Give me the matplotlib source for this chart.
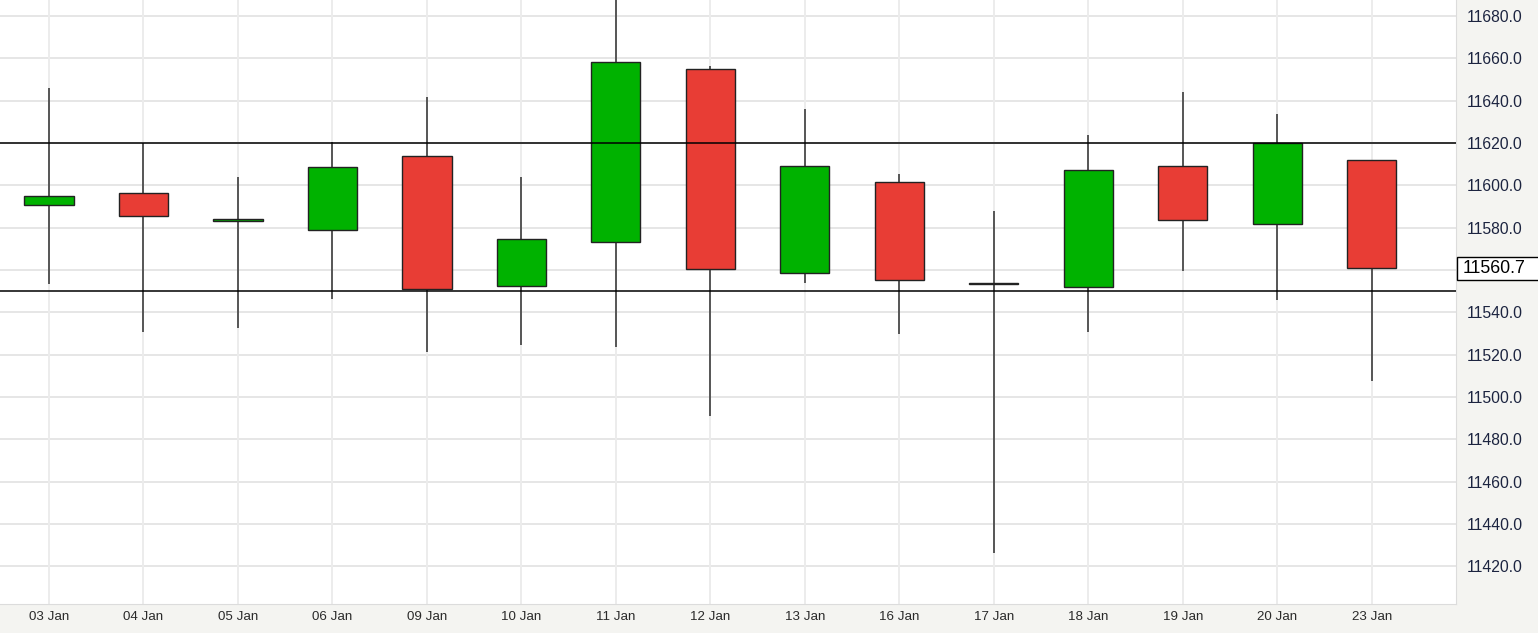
import matplotlib
matplotlib.use("Agg")
import matplotlib.pyplot as plt
import matplotlib.transforms as mtransforms
from matplotlib.patches import Rectangle
import numpy as np

# mum verileri (gozle okunan degerler)
tarihler = ["03 Jan", "04 Jan", "05 Jan", "06 Jan", "09 Jan", "10 Jan", "11 Jan", "12 Jan",
            "13 Jan", "16 Jan", "17 Jan", "18 Jan", "19 Jan", "20 Jan", "23 Jan"]
acilis = [11590.6, 11596.5, 11583.2, 11579.0, 11613.7, 11552.6, 11573.4, 11655.0,
          11558.7, 11601.4, 11553.4, 11551.8, 11609.1, 11581.7, 11612.0]
kapanis = [11595.0, 11585.7, 11583.9, 11608.5, 11551.0, 11574.5, 11658.4, 11560.6,
           11609.3, 11555.4, 11553.4, 11607.4, 11583.5, 11620.0, 11560.7]
yuksek = [11645.8, 11620.0, 11603.8, 11620.3, 11641.9, 11604.1, 11692.0, 11656.4,
          11636.1, 11605.4, 11587.7, 11623.9, 11644.2, 11633.7, 11612.0]
dusuk = [11553.4, 11530.9, 11532.5, 11546.3, 11521.1, 11524.6, 11523.8, 11491.2,
         11554.0, 11529.6, 11426.5, 11530.6, 11559.5, 11545.8, 11507.7]
seviyeler = [11620.0, 11550.0]  # yatay destek / direnc cizgileri
son_fiyat = 11560.7
y_tikler = np.arange(11420, 11681, 20)

yesil = "#00b200"
kirmizi = "#e83d35"
arka = "#f4f4f1"

plt.rcParams["font.family"] = ["Liberation Sans", "DejaVu Sans"]

fig = plt.figure(figsize=(15.38, 6.33), dpi=100, facecolor=arka)
ax = fig.add_axes([0, 0.0458, 1456 / 1538, 1 - 0.0458])
ax.set_facecolor("white")

x = np.arange(len(tarihler))
acilis = np.array(acilis)
kapanis = np.array(kapanis)

# izgara
for t in y_tikler:
    ax.axhline(t, color="#e6e6e6", lw=1.4, zorder=0)
for xi in x:
    ax.axvline(xi, color="#ececec", lw=1.4, zorder=0)

# fitiller
ax.vlines(x, dusuk, yuksek, color="#4a4a4a", lw=1.3, zorder=2)

# govdeler
renkler = [yesil if k >= a else kirmizi for a, k in zip(acilis, kapanis)]
alt = np.minimum(acilis, kapanis)
boy = np.maximum(np.abs(kapanis - acilis), 0.5)
ax.bar(x, boy, bottom=alt, width=0.52, color=renkler, edgecolor="#222222",
       linewidth=1.0, zorder=3)

# destek direnc cizgileri
for s in seviyeler:
    ax.axhline(s, color="black", lw=1.1, zorder=4)

ax.set_xlim(-0.518, 14.89)
ax.set_ylim(11402.2, 11687.5)

ax.set_xticks(x)
ax.set_xticklabels(tarihler, fontsize=9.6, color="#2a2a2a")
ax.set_yticks(y_tikler)
# 11560 etiketi son fiyat kutusunun altinda kaliyor, gosterme
ax.set_yticklabels(["" if t == 11560 else f"{t:.1f}" for t in y_tikler],
                   fontsize=11.3, color="#1c2440")
ax.yaxis.tick_right()
ax.tick_params(axis="y", length=0, pad=8)
ax.tick_params(axis="x", length=0, pad=5)

for sp in ax.spines.values():
    sp.set_visible(False)
ax.spines["right"].set_visible(True)
ax.spines["right"].set_color("#dcdcdc")
ax.spines["bottom"].set_visible(True)
ax.spines["bottom"].set_color("#dcdcdc")

# son fiyat etiketi: eksenin sagindan figurun disina tasan kutu
tr = mtransforms.blended_transform_factory(ax.transAxes, ax.transData)
kutu_y = 11.4 / 2.117  # yarim yukseklik (veri biriminde)
ax.add_patch(Rectangle((1.0005, son_fiyat - kutu_y), 0.08, 2 * kutu_y, transform=tr,
                       facecolor="white", edgecolor="black", lw=1.0, clip_on=False, zorder=5))
ax.text(1.0045, son_fiyat, f"{son_fiyat:.1f}", transform=tr, ha="left", va="center",
        fontsize=12.8, color="black", zorder=6, clip_on=False)

fig.savefig("out.png", dpi=100, facecolor=arka)
